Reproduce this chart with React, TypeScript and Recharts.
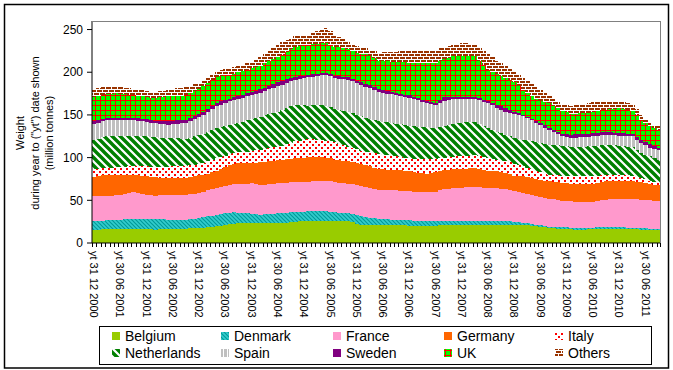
import React from 'react';
import { BarChart, Bar, XAxis, YAxis } from 'recharts';

// rolling-year ("yt") periods, one per month, Dec 2000 .. Sep 2011
const FIRST_YEAR = 2000;
const FIRST_MONTH = 12;
const MONTH_END = ['31', '28', '31', '30', '31', '30', '31', '31', '30', '31', '30', '31'];
const PERIOD_COUNT = 130;

const PERIODS: string[] = [];
for (let i = 0; i < PERIOD_COUNT; i++) {
  const m0 = FIRST_MONTH - 1 + i;
  const year = FIRST_YEAR + Math.floor(m0 / 12);
  const month = (m0 % 12) + 1;
  const day = month === 2 && year % 4 === 0 ? '29' : MONTH_END[month - 1];
  PERIODS.push(`yt ${day} ${String(month).padStart(2, '0')} ${year}`);
}

const Y_TICKS = [0, 50, 100, 150, 200, 250];

// million tonnes
const BELGIUM = [
  15.5, 15.8, 16.1, 16.4, 16.4, 16.5, 16.4, 16.4, 16.5, 16.4,
  16.4, 16.3, 16.4, 15.9, 15.6, 15.9, 16.2, 16.4, 16.5, 16.6,
  16.7, 16.8, 17.1, 17.4, 17.7, 18.0, 18.5, 19.0, 19.5, 20.3,
  21.1, 21.9, 22.7, 22.9, 23.0, 23.1, 23.2, 23.2, 23.1, 23.2,
  23.3, 23.2, 23.3, 23.4, 24.0, 24.5, 25.0, 25.4, 25.8, 26.1,
  26.2, 26.2, 26.1, 26.0, 25.8, 25.5, 25.4, 25.4, 25.4, 24.2,
  22.8, 21.5, 21.5, 21.5, 21.6, 21.5, 21.4, 21.3, 21.2, 21.1,
  21.0, 20.7, 20.4, 20.3, 20.2, 20.1, 20.2, 20.3, 20.4, 20.8,
  21.0, 21.2, 21.3, 21.3, 21.2, 21.1, 21.0, 21.0, 20.8, 20.7,
  20.7, 20.8, 20.8, 20.9, 21.0, 21.1, 21.2, 21.4, 21.5, 20.9,
  20.2, 19.4, 18.8, 18.2, 17.6, 17.2, 16.8, 16.5, 16.2, 16.0,
  15.8, 15.8, 15.8, 15.9, 16.0, 16.1, 16.3, 16.4, 16.4, 16.3,
  16.2, 16.2, 16.1, 16.0, 15.9, 15.8, 15.8, 15.7, 15.6, 15.6,
];
const DENMARK = [
  9.9, 9.9, 10.0, 10.1, 10.3, 10.6, 10.9, 11.3, 11.7, 12.1,
  12.0, 11.8, 11.6, 11.8, 12.0, 11.7, 11.4, 11.1, 10.9, 10.7,
  10.6, 10.5, 10.8, 11.2, 11.6, 12.0, 12.6, 13.2, 13.7, 13.7,
  13.6, 13.5, 13.3, 12.7, 12.1, 11.5, 11.0, 10.6, 10.2, 10.5,
  10.8, 11.1, 11.5, 11.8, 11.6, 11.3, 11.0, 11.0, 10.9, 10.9,
  10.9, 11.0, 11.0, 11.0, 10.8, 10.5, 10.3, 10.0, 9.8, 9.8,
  9.8, 9.7, 8.9, 8.0, 7.2, 6.5, 6.4, 6.3, 6.2, 6.1,
  6.0, 6.1, 6.2, 5.9, 5.6, 5.3, 5.0, 5.1, 5.3, 5.2,
  5.0, 5.0, 5.0, 5.0, 5.0, 5.0, 5.0, 5.0, 5.1, 5.2,
  5.3, 5.1, 4.9, 4.6, 4.4, 4.1, 3.8, 3.2, 2.5, 2.3,
  2.1, 2.0, 1.7, 1.4, 1.2, 1.5, 1.8, 2.0, 2.0, 2.0,
  2.0, 2.0, 2.0, 2.1, 2.1, 2.2, 2.3, 2.3, 2.3, 2.2,
  2.2, 2.1, 2.0, 1.9, 1.8, 1.6, 1.4, 1.2, 1.0, 0.9,
];
const FRANCE = [
  29.3, 29.2, 29.1, 29.0, 28.9, 28.8, 28.7, 29.4, 30.1, 30.9,
  30.2, 29.4, 28.6, 28.3, 28.0, 28.2, 28.3, 28.5, 28.5, 28.6,
  28.6, 28.6, 29.0, 29.3, 29.7, 30.0, 30.4, 30.9, 31.3, 31.9,
  32.4, 33.0, 33.5, 34.0, 34.5, 35.0, 35.5, 34.9, 34.4, 34.5,
  34.7, 34.8, 34.9, 35.1, 35.2, 35.4, 35.5, 35.3, 35.1, 34.9,
  35.2, 35.5, 35.7, 36.0, 35.5, 35.0, 34.8, 34.5, 34.3, 34.6,
  34.8, 35.1, 34.8, 34.5, 34.5, 34.5, 34.4, 34.4, 34.4, 34.3,
  34.3, 34.1, 34.0, 34.0, 34.0, 34.0, 34.0, 34.1, 34.2, 35.8,
  37.3, 37.6, 38.0, 38.4, 38.8, 39.1, 39.5, 39.8, 39.4, 38.9,
  38.5, 38.7, 38.9, 38.3, 37.6, 36.8, 36.0, 35.0, 34.0, 33.9,
  33.8, 33.7, 33.5, 33.4, 33.3, 32.5, 31.8, 31.0, 31.0, 31.0,
  30.4, 29.9, 29.9, 30.0, 30.0, 30.7, 31.3, 32.0, 32.3, 32.7,
  33.0, 33.3, 33.7, 34.0, 33.8, 33.5, 33.3, 33.0, 33.1, 33.2,
];
const GERMANY = [
  22.6, 23.2, 23.9, 24.5, 24.4, 24.2, 24.0, 22.9, 21.7, 20.6,
  20.9, 21.1, 21.4, 21.4, 21.3, 20.9, 20.4, 20.0, 20.2, 20.3,
  20.5, 20.6, 20.5, 20.3, 20.2, 20.0, 19.8, 19.7, 19.5, 20.5,
  21.5, 22.5, 23.5, 23.6, 23.7, 23.9, 24.0, 25.5, 26.9, 27.0,
  27.1, 27.2, 27.3, 27.4, 27.4, 27.5, 27.5, 27.8, 28.1, 28.4,
  28.1, 27.7, 27.4, 27.0, 26.9, 26.7, 26.6, 26.6, 26.5, 26.5,
  26.6, 26.6, 26.3, 26.0, 25.0, 24.0, 23.9, 23.9, 23.8, 23.8,
  23.7, 23.6, 23.5, 23.1, 22.7, 22.3, 21.9, 22.4, 23.0, 22.3,
  21.7, 21.9, 22.0, 22.0, 22.0, 22.0, 21.9, 21.9, 21.1, 20.3,
  19.5, 19.5, 19.5, 19.3, 19.0, 18.5, 18.0, 19.0, 20.0, 19.8,
  19.5, 19.3, 19.6, 20.0, 20.3, 20.5, 20.8, 21.0, 20.8, 20.5,
  20.9, 21.3, 21.4, 21.4, 21.5, 21.7, 22.0, 22.2, 22.0, 21.7,
  21.5, 21.3, 21.2, 21.0, 20.5, 20.0, 19.5, 19.0, 18.5, 18.0,
];
const ITALY = [
  9.4, 8.9, 8.5, 8.0, 8.3, 8.7, 9.0, 9.5, 10.1, 10.6,
  11.1, 11.5, 12.0, 12.1, 12.2, 12.6, 13.1, 13.5, 13.5, 13.4,
  13.3, 13.3, 13.5, 13.7, 13.9, 14.0, 14.4, 14.8, 15.0, 14.4,
  13.7, 13.1, 12.5, 12.9, 13.2, 13.6, 13.9, 14.2, 14.5, 14.9,
  15.2, 15.6, 15.9, 16.3, 17.5, 18.8, 20.0, 20.5, 21.0, 21.5,
  21.1, 20.8, 20.4, 20.0, 20.2, 20.3, 19.2, 18.1, 17.0, 16.3,
  15.7, 15.0, 15.5, 16.0, 16.8, 17.5, 17.2, 16.9, 16.6, 16.3,
  16.0, 15.5, 15.0, 15.5, 16.1, 16.6, 17.1, 16.6, 16.0, 15.5,
  15.0, 15.0, 15.0, 15.0, 15.0, 15.0, 15.0, 15.1, 15.4, 15.7,
  16.0, 14.5, 13.0, 13.3, 13.7, 13.8, 14.0, 13.0, 12.0, 11.3,
  10.7, 10.0, 9.2, 8.5, 7.7, 7.8, 7.9, 8.0, 8.3, 8.5,
  8.8, 9.0, 9.0, 9.0, 9.0, 8.3, 7.7, 7.0, 6.8, 6.7,
  6.5, 6.3, 6.2, 6.0, 5.5, 5.0, 4.5, 4.0, 3.5, 3.0,
];
const NETHERLANDS = [
  34.3, 35.2, 36.1, 37.0, 37.0, 36.9, 36.8, 36.3, 35.7, 35.2,
  35.1, 35.1, 35.0, 34.8, 34.5, 34.2, 33.8, 33.5, 33.2, 32.9,
  32.5, 32.2, 32.6, 33.1, 33.5, 34.0, 34.4, 34.8, 35.2, 34.9,
  34.6, 34.3, 34.0, 34.8, 35.6, 36.4, 37.1, 38.0, 39.0, 39.5,
  40.0, 40.5, 41.0, 41.5, 42.0, 42.5, 43.0, 41.7, 40.4, 39.2,
  39.6, 40.0, 40.5, 41.0, 40.0, 39.0, 39.7, 40.4, 41.0, 40.8,
  40.6, 40.4, 39.7, 39.0, 39.0, 39.0, 38.8, 38.6, 38.4, 38.2,
  38.0, 38.0, 38.0, 37.8, 37.6, 37.4, 37.3, 36.5, 35.8, 36.4,
  37.0, 37.5, 38.0, 38.5, 39.0, 39.1, 39.2, 39.2, 37.8, 36.3,
  34.8, 33.9, 33.0, 32.1, 31.3, 30.6, 30.0, 30.5, 31.0, 32.0,
  33.0, 34.0, 34.4, 34.8, 35.1, 35.3, 35.4, 35.5, 34.8, 34.0,
  34.2, 34.5, 34.7, 34.8, 35.0, 35.1, 35.2, 35.3, 35.1, 34.8,
  34.5, 34.2, 33.8, 33.5, 31.5, 29.5, 29.0, 28.6, 27.8, 27.0,
];
const SPAIN = [
  18.8, 18.8, 18.7, 18.7, 18.4, 18.2, 17.9, 17.9, 17.9, 17.9,
  17.6, 17.3, 17.0, 16.8, 16.6, 16.2, 15.8, 15.5, 16.3, 17.1,
  17.9, 18.6, 19.4, 20.2, 21.1, 22.0, 23.3, 24.7, 26.0, 26.5,
  27.0, 27.5, 28.0, 28.1, 28.2, 28.4, 28.5, 28.2, 27.8, 28.2,
  28.7, 29.1, 29.6, 30.0, 29.8, 29.6, 29.4, 30.6, 31.8, 33.0,
  33.7, 34.5, 35.2, 36.0, 36.0, 36.0, 36.5, 37.0, 37.4, 37.3,
  37.2, 37.1, 36.5, 36.0, 35.0, 34.0, 33.8, 33.6, 33.4, 33.2,
  33.0, 33.0, 33.0, 31.9, 30.8, 29.6, 28.5, 27.8, 27.2, 28.1,
  29.0, 29.0, 29.0, 28.5, 28.0, 27.7, 27.3, 27.0, 27.7, 28.5,
  29.2, 28.6, 28.0, 27.5, 27.0, 27.5, 28.0, 27.7, 27.4, 25.8,
  24.2, 22.6, 20.7, 18.7, 16.8, 14.9, 12.9, 11.0, 11.0, 11.0,
  11.2, 11.4, 11.5, 11.5, 11.5, 11.6, 11.7, 11.8, 11.9, 11.9,
  12.0, 12.2, 12.3, 12.5, 12.1, 11.7, 11.0, 10.3, 10.6, 10.9,
];
const SWEDEN = [
  2.8, 2.8, 2.8, 2.8, 2.8, 2.8, 2.8, 2.8, 2.8, 2.8,
  2.9, 2.9, 3.0, 3.0, 3.1, 3.3, 3.5, 3.8, 3.8, 3.9,
  3.9, 3.9, 3.8, 3.6, 3.5, 3.4, 3.6, 3.8, 4.0, 3.7,
  3.5, 3.2, 3.0, 3.3, 3.5, 3.8, 4.0, 4.0, 3.9, 4.1,
  4.3, 4.5, 4.6, 4.7, 4.2, 3.6, 3.1, 3.0, 3.0, 3.0,
  2.8, 2.6, 2.4, 2.2, 2.6, 3.0, 2.9, 2.7, 2.6, 2.7,
  2.7, 2.8, 3.4, 4.0, 3.8, 3.5, 3.4, 3.3, 3.2, 3.1,
  3.0, 2.9, 2.7, 2.5, 2.3, 2.2, 2.0, 2.0, 2.0, 3.5,
  5.0, 4.0, 3.0, 2.8, 2.5, 2.3, 2.2, 2.0, 2.0, 2.0,
  2.0, 3.0, 4.0, 4.1, 4.2, 3.6, 3.0, 2.5, 2.0, 2.0,
  2.0, 2.0, 2.3, 2.7, 3.0, 3.0, 3.0, 3.0, 3.5, 4.0,
  3.8, 3.6, 3.5, 3.4, 3.3, 3.2, 3.1, 3.0, 2.9, 2.8,
  2.8, 2.8, 2.8, 2.8, 3.0, 3.1, 3.5, 3.9, 3.3, 2.7,
];
const UK = [
  28.4, 28.4, 28.5, 28.5, 28.5, 28.5, 28.5, 27.8, 27.2, 26.5,
  26.3, 26.2, 26.0, 26.2, 26.3, 27.5, 28.8, 30.1, 29.6, 29.2,
  28.7, 28.5, 28.8, 29.2, 29.6, 30.0, 30.2, 30.0, 29.8, 29.3,
  28.8, 28.3, 27.8, 27.5, 27.3, 27.2, 27.3, 27.6, 28.0, 28.5,
  29.0, 29.5, 30.0, 30.5, 32.0, 33.7, 35.5, 35.5, 35.4, 35.4,
  35.4, 35.3, 35.3, 35.2, 34.6, 34.0, 33.7, 33.3, 33.0, 32.9,
  32.8, 32.7, 34.2, 34.5, 33.5, 32.5, 33.4, 34.3, 35.2, 36.1,
  37.0, 37.7, 38.3, 40.0, 41.7, 43.3, 45.0, 46.0, 47.0, 45.5,
  44.0, 45.9, 47.8, 47.5, 47.3, 47.4, 47.6, 47.8, 44.2, 40.6,
  37.0, 36.5, 36.0, 35.4, 34.8, 34.4, 34.0, 31.7, 29.3, 28.0,
  26.7, 25.4, 26.6, 27.8, 29.0, 28.3, 27.7, 27.0, 25.5, 24.0,
  24.3, 24.5, 24.6, 24.7, 24.8, 25.3, 25.8, 26.3, 27.3, 28.3,
  29.3, 28.6, 27.9, 27.2, 25.7, 24.2, 22.6, 21.0, 21.3, 21.5,
];
const OTHERS = [
  9.9, 9.2, 8.5, 7.8, 7.8, 7.8, 7.8, 7.7, 7.6, 7.5,
  7.3, 7.2, 7.0, 7.0, 7.0, 7.0, 7.0, 7.0, 7.7, 8.4,
  9.0, 9.7, 8.7, 7.8, 6.8, 6.5, 6.8, 7.0, 7.2, 7.4,
  7.5, 7.6, 7.7, 7.8, 7.9, 8.0, 8.0, 9.0, 9.8, 11.0,
  12.2, 13.4, 14.5, 15.6, 14.4, 13.2, 12.0, 11.9, 11.7, 11.6,
  13.1, 14.6, 16.1, 17.6, 15.8, 14.0, 12.3, 10.7, 9.0, 8.3,
  7.7, 7.0, 7.0, 7.0, 8.5, 10.0, 10.5, 11.0, 11.5, 12.0,
  12.6, 13.1, 13.6, 13.6, 13.6, 13.6, 13.6, 14.6, 15.6, 14.8,
  14.0, 13.6, 13.3, 14.5, 15.6, 15.2, 14.7, 14.3, 16.1, 17.9,
  19.0, 17.0, 15.0, 15.0, 15.0, 13.5, 12.0, 13.2, 14.3, 14.8,
  15.0, 14.0, 12.0, 10.0, 8.0, 7.8, 7.6, 7.5, 8.5, 9.5,
  9.8, 10.0, 10.5, 11.0, 11.7, 11.0, 10.4, 9.8, 9.0, 8.4,
  7.8, 7.8, 7.9, 7.9, 7.0, 5.5, 4.5, 3.5, 4.0, 4.7,
];

const SERIES = [
  { key: 'Belgium', values: BELGIUM, fill: '#99CC00' },
  { key: 'Denmark', values: DENMARK, fill: 'url(#pat-denmark)' },
  { key: 'France', values: FRANCE, fill: '#FF99CC' },
  { key: 'Germany', values: GERMANY, fill: '#FF6600' },
  { key: 'Italy', values: ITALY, fill: 'url(#pat-italy)' },
  { key: 'Netherlands', values: NETHERLANDS, fill: 'url(#pat-netherlands)' },
  { key: 'Spain', values: SPAIN, fill: 'url(#pat-spain)' },
  { key: 'Sweden', values: SWEDEN, fill: '#800080' },
  { key: 'UK', values: UK, fill: 'url(#pat-uk)' },
  { key: 'Others', values: OTHERS, fill: 'url(#pat-others)' },
];

const data = PERIODS.map((period, i) => {
  const row: Record<string, string | number> = { period };
  SERIES.forEach((s) => {
    row[s.key] = s.values[i];
  });
  return row;
});

const FONT = 'Arial, "Liberation Sans", sans-serif';
const W = 673;
const H = 370;
const PLOT_LEFT = 92;
const PLOT_RIGHT = 661;
const PLOT_TOP = 21;
const PLOT_BOTTOM = 243;
const BAND = (PLOT_RIGHT - PLOT_LEFT) / PERIOD_COUNT;

const Patterns = () => (
  <svg width={0} height={0} style={{ position: 'absolute' }}>
    <defs>
      <pattern id="pat-denmark" width={4} height={4} patternUnits="userSpaceOnUse">
        <rect width={4} height={4} fill="#33CCCC" />
        <path d="M-1,-1 L5,5 M-5,-1 L1,5 M3,-1 L9,5" stroke="#009999" strokeWidth={1.2} />
      </pattern>
      <pattern id="pat-italy" width={6} height={6} patternUnits="userSpaceOnUse">
        <rect width={6} height={6} fill="#FFFFFF" />
        <rect x={0} y={0} width={2} height={2} fill="#FF0000" />
        <rect x={3} y={3} width={2} height={2} fill="#FF0000" />
      </pattern>
      <pattern id="pat-netherlands" width={8} height={8} patternUnits="userSpaceOnUse">
        <rect width={8} height={8} fill="#FFFFFF" />
        <path d="M-2,-2 L10,10 M-10,-2 L2,10 M6,-2 L18,10" stroke="#008000" strokeWidth={3.4} />
      </pattern>
      <pattern id="pat-spain" width={4} height={4} patternUnits="userSpaceOnUse">
        <rect width={4} height={4} fill="#FFFFFF" />
        <rect x={0} y={0} width={3} height={4} fill="#C0C0C0" />
      </pattern>
      <pattern id="pat-uk" width={5} height={5} patternUnits="userSpaceOnUse">
        <rect width={5} height={5} fill="#FF0000" />
        <rect x={1} y={1} width={4} height={4} fill="#00FF00" />
      </pattern>
      <pattern id="pat-others" width={6} height={6} patternUnits="userSpaceOnUse">
        <rect width={6} height={6} fill="#993300" />
        <rect x={0} y={2} width={6} height={1} fill="#FFFFFF" />
        <rect x={0} y={5} width={6} height={1} fill="#FFFFFF" />
        <rect x={0} y={0} width={1} height={2} fill="#FFFFFF" />
        <rect x={3} y={3} width={1} height={2} fill="#FFFFFF" />
      </pattern>
    </defs>
  </svg>
);

// Recharts truncates the bar width to whole pixels; widen each segment to its
// full category band and snap to pixels so the columns touch without seams
const SnappedBar = (props: any) => {
  const { y, height, fill, index } = props;
  if (!height || height <= 0) return null;
  const x1 = Math.round(PLOT_LEFT + index * BAND);
  const x2 = Math.round(PLOT_LEFT + (index + 1) * BAND);
  const y1 = Math.round(y);
  const y2 = Math.round(y + height);
  if (y2 <= y1) return null;
  return <rect x={x1} y={y1} width={x2 - x1} height={y2 - y1} fill={fill} />;
};

const MonthTick = (props: any) => {
  const { x, index } = props;
  const left = Math.round(PLOT_LEFT + index * BAND) + 0.5;
  const labelTop = 251;
  return (
    <g>
      <line x1={left} x2={left} y1={PLOT_BOTTOM} y2={PLOT_BOTTOM + 4} stroke="#000" />
      {index === PERIOD_COUNT - 1 && (
        <line x1={PLOT_RIGHT - 0.5} x2={PLOT_RIGHT - 0.5} y1={PLOT_BOTTOM} y2={PLOT_BOTTOM + 4} stroke="#000" />
      )}
      {index % 6 === 0 && (
        <text
          x={x}
          y={labelTop}
          transform={`rotate(90 ${x} ${labelTop})`}
          textAnchor="start"
          dominantBaseline="central"
          fontSize={11}
          fontFamily={FONT}
          fill="#000"
        >
          {PERIODS[index]}
        </text>
      )}
    </g>
  );
};

const LEGEND_COLS = [112, 221, 333, 444, 555];

const Overlay = () => (
  <svg width={W} height={H} style={{ position: 'absolute', left: 0, top: 0, pointerEvents: 'none' }}>
    <rect x={4.5} y={4.5} width={664} height={363.5} fill="none" stroke="#000" strokeWidth={1.5} />
    <line x1={PLOT_LEFT} x2={PLOT_RIGHT} y1={PLOT_TOP + 0.5} y2={PLOT_TOP + 0.5} stroke="#808080" />
    <line x1={PLOT_RIGHT - 0.5} x2={PLOT_RIGHT - 0.5} y1={PLOT_TOP} y2={PLOT_BOTTOM} stroke="#808080" />
    <g fontFamily={FONT} fontSize={11} fill="#000" textAnchor="middle">
      <text transform="translate(20 133) rotate(-90)" dominantBaseline="central">Weight</text>
      <text transform="translate(35 133) rotate(-90)" dominantBaseline="central">
        during year to ("yt") date shown
      </text>
      <text transform="translate(49 133) rotate(-90)" dominantBaseline="central">(million tonnes)</text>
    </g>
    <rect x={99.5} y={326.5} width={552} height={38} fill="#fff" stroke="#000" />
    {SERIES.map((s, i) => {
      const col = LEGEND_COLS[i % 5];
      const cy = i < 5 ? 336 : 353;
      return (
        <g key={s.key}>
          <rect x={col} y={cy - 4} width={8} height={8} fill={s.fill} />
          <text x={col + 13} y={cy} dominantBaseline="central" fontFamily={FONT} fontSize={14} fill="#000">
            {s.key}
          </text>
        </g>
      );
    })}
  </svg>
);

export default function App() {
  return (
    <div style={{ position: 'absolute', left: 0, top: 0, width: W, height: H, background: '#fff' }}>
      <Patterns />
      <BarChart
        width={W}
        height={H}
        data={data}
        barCategoryGap={0}
        barGap={0}
        margin={{ top: PLOT_TOP, right: W - PLOT_RIGHT, bottom: 47, left: PLOT_LEFT - 40 }}
      >
        <XAxis
          dataKey="period"
          interval={0}
          height={H - 47 - PLOT_BOTTOM}
          tickLine={false}
          axisLine={{ stroke: '#000' }}
          tick={<MonthTick />}
        />
        <YAxis
          width={40}
          domain={[0, 260]}
          ticks={Y_TICKS}
          allowDataOverflow
          axisLine={{ stroke: '#000' }}
          tickLine={{ stroke: '#000' }}
          tickSize={5}
          tickMargin={4}
          tick={{ fill: '#000', fontSize: 12, fontFamily: FONT }}
        />
        {SERIES.map((s) => (
          <Bar
            key={s.key}
            dataKey={s.key}
            stackId="a"
            fill={s.fill}
            shape={<SnappedBar />}
            isAnimationActive={false}
          />
        ))}
      </BarChart>
      <Overlay />
    </div>
  );
}
